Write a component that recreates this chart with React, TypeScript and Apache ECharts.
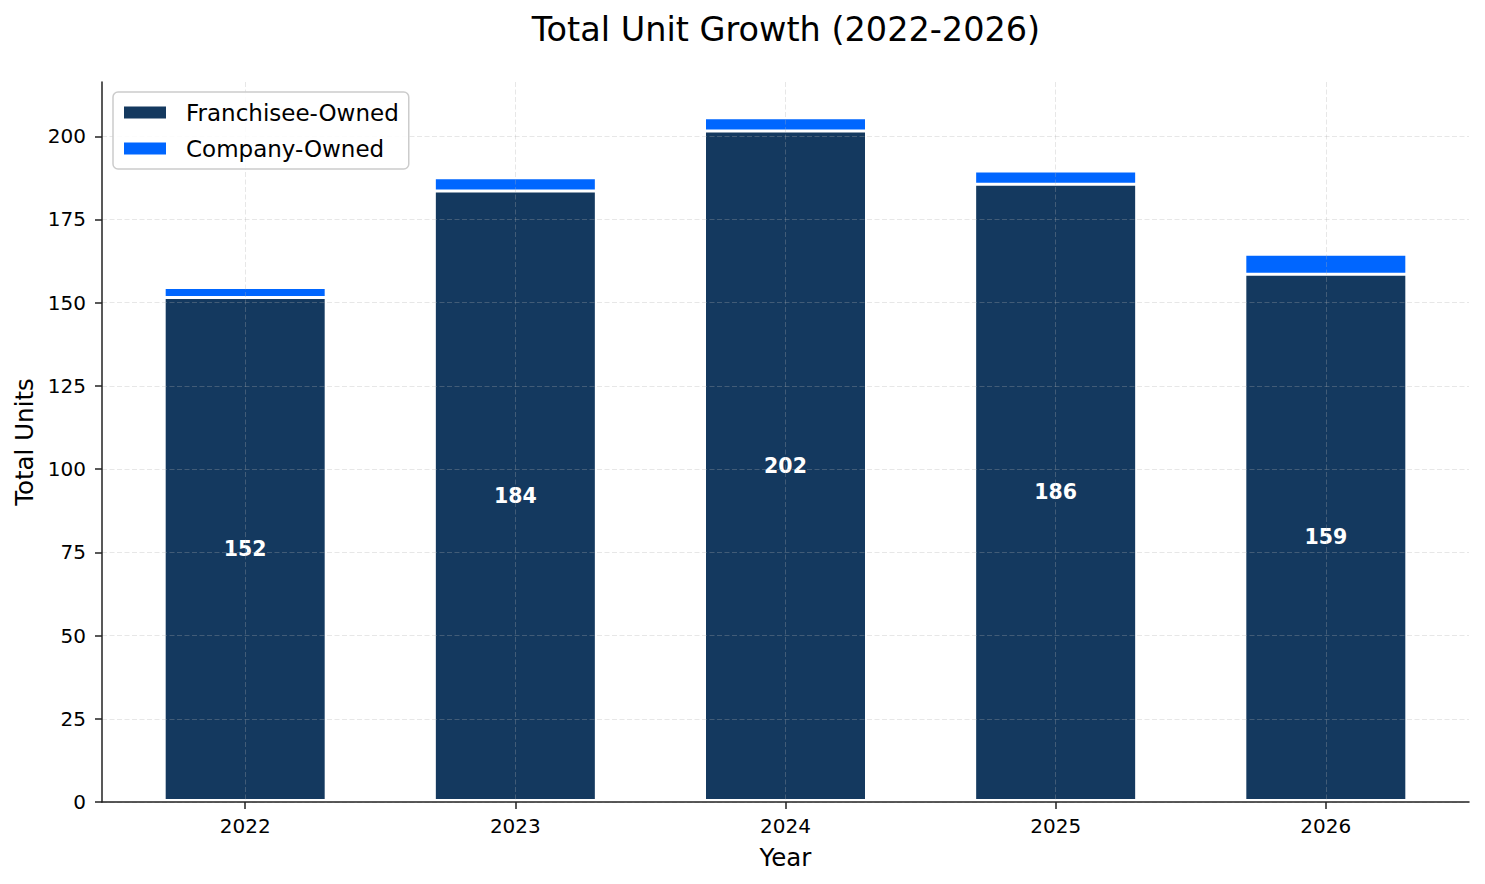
import React, { useEffect, useRef } from "react";
import * as echarts from "echarts";

const years = ["2022", "2023", "2024", "2025", "2026"];
const franchiseeOwned = [152, 184, 202, 186, 159];
const companyOwned = [3, 4, 4, 4, 6];
const yTicks = [0, 25, 50, 75, 100, 125, 150, 175, 200];

const FONT = "DejaVu Sans";

export default function App() {
  const ref = useRef<HTMLDivElement>(null);

  useEffect(() => {
    document.body.style.margin = "0";
    if (!ref.current) return;
    const chart = echarts.init(ref.current, null, { renderer: "svg" });

    const idx = years.map((_, i) => i);
    // stacked top of each bar (franchisee + company)
    const totals = franchiseeOwned.map((v, i) => v + companyOwned[i]);
    const yMax = Math.max(...totals) * 1.05;
    const xPad = (idx.length - 1 + 0.6) * 0.05;
    const xMin = -0.3 - xPad;
    const xMax = idx.length - 1 + 0.3 + xPad;

    const gridLine = {
      show: true,
      lineStyle: { color: "rgba(176,176,176,0.3)", width: 1, type: [5, 2.5] },
    };
    const barW = 165;

    chart.setOption({
      animation: false,
      textStyle: { fontFamily: FONT },
      title: {
        text: "Total Unit Growth (2022-2026)",
        left: 781,
        textAlign: "center",
        top: 7,
        textStyle: { fontFamily: FONT, fontSize: 33.5, fontWeight: "normal", color: "#000" },
      },
      legend: {
        orient: "vertical",
        left: 113,
        top: 92,
        padding: [9, 10, 9, 11],
        itemGap: 13,
        itemWidth: 42,
        itemHeight: 12,
        icon: "rect",
        backgroundColor: "rgba(255,255,255,0.85)",
        borderColor: "#cccccc",
        borderWidth: 1.5,
        borderRadius: 5,
        itemStyle: { borderWidth: 0 },
        textStyle: { fontFamily: FONT, fontSize: 23, color: "#000", padding: [0, 0, 0, 15] },
        data: ["Franchisee-Owned", "Company-Owned"],
      },
      grid: { left: 102, right: 16, top: 82, bottom: 82 },
      xAxis: {
        type: "value",
        min: xMin,
        max: xMax,
        z: 3,
        name: "Year",
        nameLocation: "middle",
        nameGap: 43,
        nameTextStyle: { fontFamily: FONT, fontSize: 24.5, color: "#000" },
        axisLine: { show: true, onZero: false, lineStyle: { color: "#222", width: 1.5 } },
        axisTick: { show: true, length: 7, customValues: idx, lineStyle: { color: "#222", width: 1.5 } },
        axisLabel: {
          customValues: idx,
          margin: 14,
          fontFamily: FONT,
          fontSize: 20,
          color: "#000",
          formatter: (v: number) => years[Math.round(v)] ?? "",
        },
        splitLine: gridLine,
      },
      yAxis: {
        type: "value",
        min: 0,
        max: yMax,
        z: 3,
        name: "Total Units",
        nameLocation: "middle",
        nameGap: 64,
        nameTextStyle: { fontFamily: FONT, fontSize: 24.5, color: "#000" },
        axisLine: { show: true, onZero: false, lineStyle: { color: "#222", width: 1.5 } },
        axisTick: { show: true, length: 7, customValues: yTicks, lineStyle: { color: "#222", width: 1.5 } },
        axisLabel: { customValues: yTicks, margin: 16, fontFamily: FONT, fontSize: 20, color: "#000" },
        splitLine: gridLine,
      },
      series: [
        {
          // company-owned segment sits on top of the franchisee segment
          name: "Company-Owned",
          type: "bar",
          barWidth: barW,
          barGap: "-100%",
          data: totals.map((v, i) => [idx[i], v]),
          itemStyle: { color: "#0066FF", borderColor: "#ffffff", borderWidth: 3 },
        },
        {
          name: "Franchisee-Owned",
          type: "bar",
          barWidth: barW,
          barGap: "-100%",
          data: franchiseeOwned.map((v, i) => [idx[i], v]),
          itemStyle: { color: "#14395F", borderColor: "#ffffff", borderWidth: 3 },
          label: {
            show: true,
            position: "inside",
            color: "#fff",
            fontFamily: FONT,
            fontWeight: "bold",
            fontSize: 20.5,
            formatter: (p: any) => String(p.value[1]),
          },
        },
      ],
    });

    return () => chart.dispose();
  }, []);

  return <div ref={ref} style={{ width: 1485, height: 884 }} />;
}
